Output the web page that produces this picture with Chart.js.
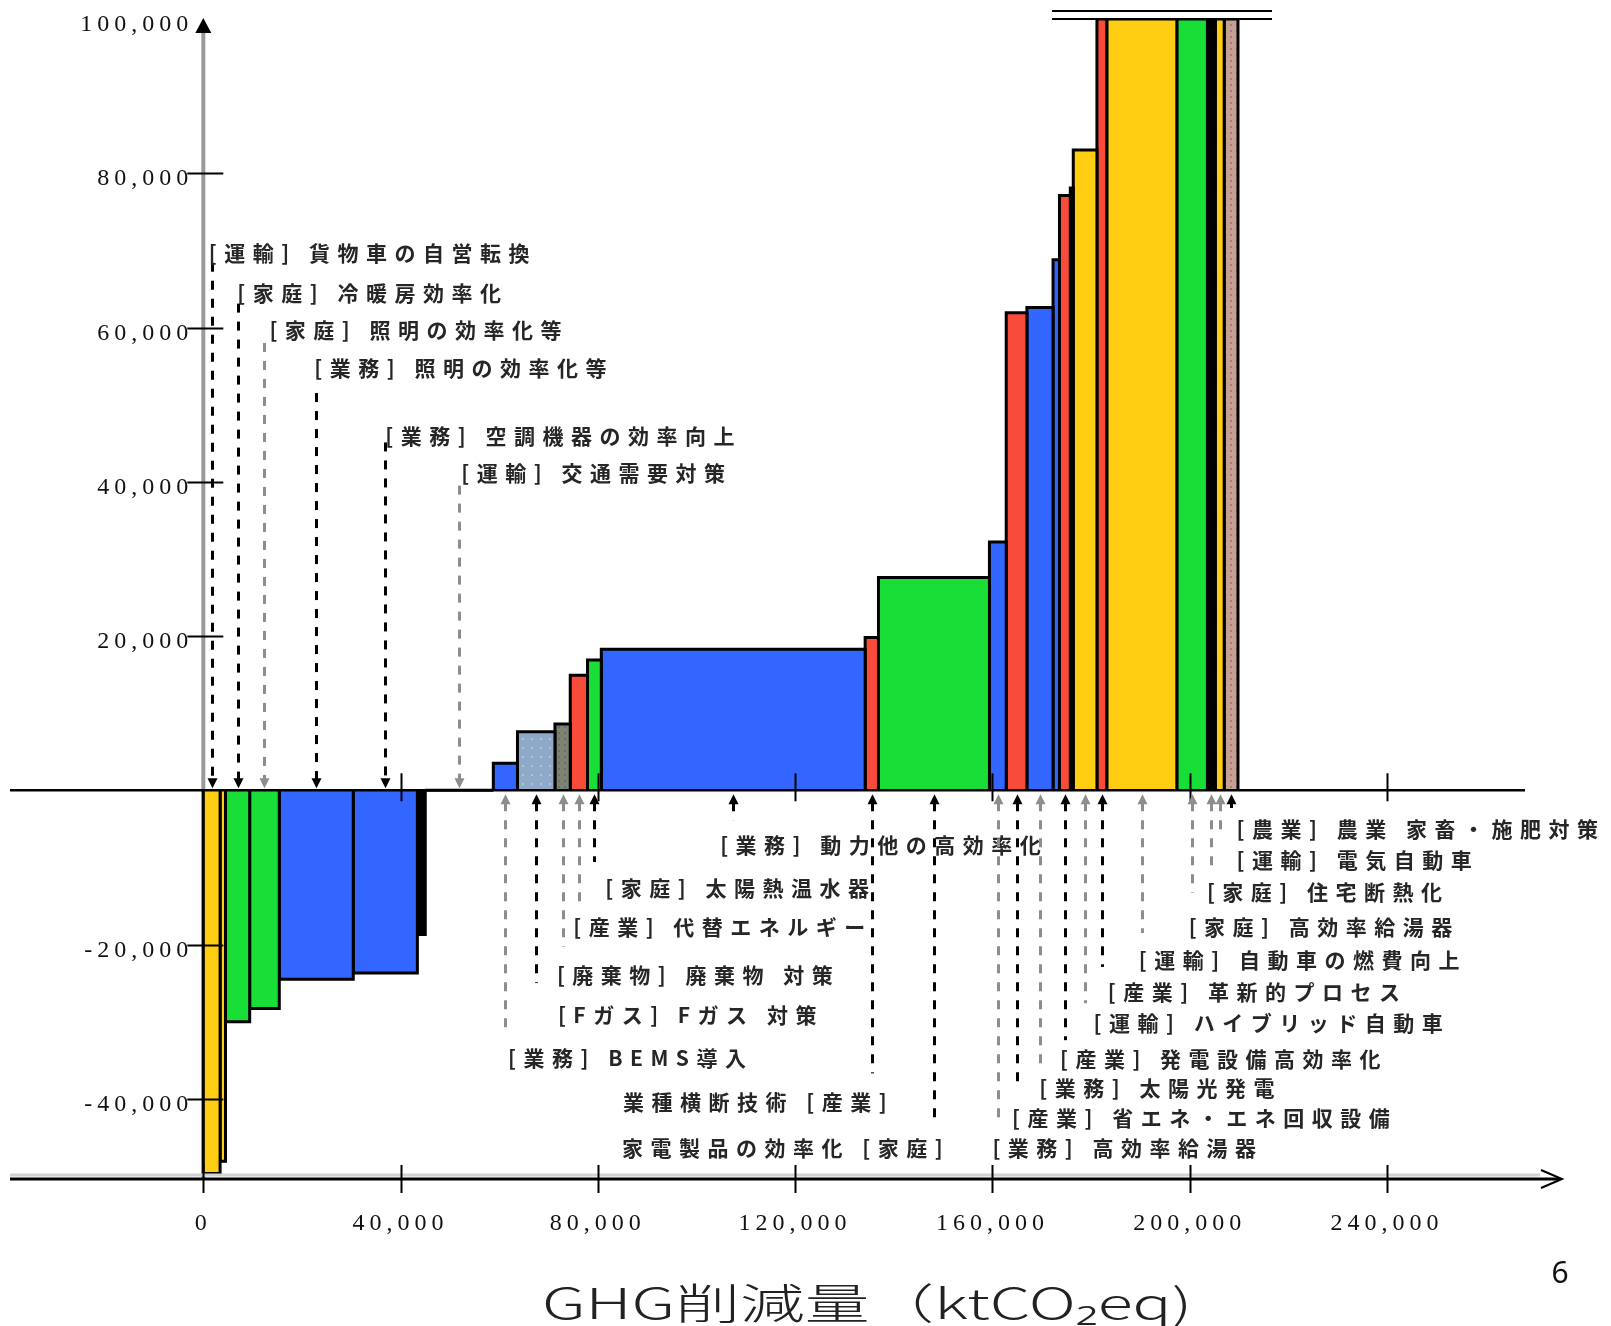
<!DOCTYPE html>
<html lang="ja">
<head>
    <meta charset="UTF-8">
    <title>GHG削減量 限界削減費用曲線</title>
    <!-- Chart.js -->
    <script src="https://cdn.jsdelivr.net/npm/chart.js"></script>
    <style>
        html, body { margin: 0; padding: 0; background: #fff; }
        #wrap { width: 1611px; height: 1326px; }
    </style>
</head>
<body>
    <div id="wrap"><canvas id="macc" width="1611" height="1326"></canvas></div>

    <script>
        // measures, left to right (empty name = no callout in the picture)
        const measureNames = [
            '[運輸] 貨物車の自営転換', '', '[家庭] 冷暖房効率化', '[家庭] 照明の効率化等',
            '[業務] 照明の効率化等', '[業務] 空調機器の効率向上', '', '[運輸] 交通需要対策',
            '[業務] BEMS導入', '[Fガス] Fガス 対策', '[廃棄物] 廃棄物 対策', '[産業] 代替エネルギー',
            '[家庭] 太陽熱温水器', '[業務] 動力他の高効率化', '業種横断技術 [産業]', '家電製品の効率化 [家庭]',
            '[業務] 高効率給湯器', '[産業] 省エネ・エネ回収設備', '[業務] 太陽光発電', '',
            '[産業] 発電設備高効率化', '', '[運輸] ハイブリッド自動車', '[産業] 革新的プロセス',
            '[運輸] 自動車の燃費向上', '[家庭] 高効率給湯器', '[家庭] 住宅断熱化', '[運輸] 電気自動車',
            '[農業] 農業 家畜・施肥対策'
        ];
        // GHG reduction of each measure (ktCO2eq) = bar width
        const reductions = [
            3400, 1100, 4900, 6000, 15000, 13000, 1600, 13800,
            4900, 7600, 3100, 3500, 2800, 53500, 2700, 22500,
            3400, 4200, 5300, 1300, 2200, 600, 4800, 2000,
            14200, 6200, 1600, 1800, 2800
        ];
        // cost of each measure = bar height (tall ones run off the top of the axis)
        const costs = [
            -49700, -48100, -30000, -28300, -24500, -23700, -18700, 0,
            3500, 7600, 8600, 14900, 16900, 18300, 19800, 27600,
            32200, 61900, 62600, 68800, 77100, 78100, 83000, 100000,
            100000, 100000, 100000, 100000, 100000
        ];
        // sector of each bar ('細' = sliver drawn solid black)
        const sectors = [
            '運輸', '運輸', '家庭', '家庭', '業務', '業務', '細', '運輸',
            '業務', 'Fガス', '廃棄物', '産業', '家庭', '業務', '産業', '家庭',
            '業務', '産業', '業務', '業務', '産業', '細', '運輸', '産業',
            '運輸', '家庭', '細', '運輸', '農業'
        ];
        const xTicks = [0, 40000, 80000, 120000, 160000, 200000, 240000];
        const yTicks = [-40000, -20000, 20000, 40000, 60000, 80000, 100000];

        // where each callout text sits (data units) and where its dashed leader stops
        const labelLayout = [
            { bar: 0, x: 1100, y: 69700, end: 68400, gray: false },
            { bar: 2, x: 6900, y: 64500, end: 63100, gray: false },
            { bar: 3, x: 13400, y: 59700, end: 58000, gray: true },
            { bar: 4, x: 22500, y: 54700, end: 51500, gray: false },
            { bar: 5, x: 36900, y: 45900, end: 45100, gray: false },
            { bar: 7, x: 52300, y: 41100, end: 39500, gray: true },
            { bar: 8, x: 61800, y: -34700, end: -31500, gray: true },
            { bar: 9, x: 71900, y: -29100, end: -25000, gray: false },
            { bar: 10, x: 71700, y: -24000, end: -20300, gray: true },
            { bar: 11, x: 75000, y: -17700, end: -15200, gray: true },
            { bar: 12, x: 81500, y: -12700, end: -9300, gray: false },
            { bar: 13, x: 104800, y: -7100, end: -3900, gray: false },
            { bar: 14, x: 85100, y: -40400, end: -36700, gray: false },
            { bar: 15, x: 84900, y: -46400, end: -43400, gray: false },
            { bar: 16, x: 160000, y: -46400, end: -43100, gray: true },
            { bar: 17, x: 164000, y: -42500, end: -38900, gray: false },
            { bar: 18, x: 169500, y: -38600, end: -35900, gray: true },
            { bar: 20, x: 173700, y: -34800, end: -32400, gray: false },
            { bar: 22, x: 180500, y: -30200, end: -27600, gray: true },
            { bar: 23, x: 183400, y: -26100, end: -22900, gray: false },
            { bar: 24, x: 189700, y: -22000, end: -18500, gray: true },
            { bar: 25, x: 199800, y: -17700, end: -13300, gray: true },
            { bar: 26, x: 203500, y: -13200, end: -9800, gray: true },
            { bar: 27, x: 209500, y: -9100, end: -5800, gray: true },
            { bar: 28, x: 209500, y: -5000, end: -2300, gray: false }
        ];

        function makePattern(base, dot, size, dotSize) {
            const c = document.createElement('canvas');
            c.width = size; c.height = size;
            const g = c.getContext('2d');
            g.fillStyle = base;
            g.fillRect(0, 0, size, size);
            g.fillStyle = dot;
            g.fillRect(0, 0, dotSize, dotSize);
            return g.createPattern(c, 'repeat');
        }

        const sectorFill = {
            '運輸': '#FFCD12',
            '家庭': '#1ADE38',
            '業務': '#3366FF',
            '産業': '#F94B3A',
            '廃棄物': makePattern('#7c8374', '#687060', 6, 2),
            'Fガス': makePattern('#8fa9c8', '#b1c3da', 9, 2),
            '農業': makePattern('#c4a194', '#a67c6c', 6, 2),
            '細': '#000'
        };

        // left edge of every bar (running total of widths)
        const starts = [];
        reductions.reduce((sum, w) => { starts.push(sum); return sum + w; }, 0);

        const datasets = reductions.map((w, i) => {
            const x0 = starts[i], x1 = starts[i] + w;
            return {
                label: measureNames[i] || sectors[i],
                data: [{ x: x0, y: 0 }, { x: x0, y: costs[i] }, { x: x1, y: costs[i] }, { x: x1, y: 0 }],
                fill: 'origin',
                backgroundColor: sectorFill[sectors[i]],
                borderColor: '#000',
                borderWidth: 3,
                borderJoinStyle: 'miter',
                pointRadius: 0,
                tension: 0
            };
        });

        const serif = '"Liberation Serif", "DejaVu Serif", serif';
        const gothic = '"Noto Sans CJK JP", "Noto Sans", sans-serif';

        const decor = {
            id: 'decor',
            beforeDraw(chart) {
                // wide spacing for the axis numbers drawn by the x scale
                chart.ctx.letterSpacing = '5px';
            },
            beforeDatasetsDraw(chart) {
                const { ctx, chartArea, scales: { x: xs, y: ys } } = chart;
                ctx.letterSpacing = '0px';
                const ax = xs.getPixelForValue(0);
                const top = ys.getPixelForValue(100000);
                // y axis (gray) with arrow head
                ctx.save();
                ctx.strokeStyle = '#9a9a9a';
                ctx.lineWidth = 4;
                ctx.beginPath();
                ctx.moveTo(ax, chartArea.bottom);
                ctx.lineTo(ax, top + 12);
                ctx.stroke();
                ctx.fillStyle = '#000';
                ctx.beginPath();
                ctx.moveTo(ax, top - 1);
                ctx.lineTo(ax - 8, top + 14);
                ctx.lineTo(ax + 8, top + 14);
                ctx.closePath();
                ctx.fill();
                ctx.restore();
            },
            afterDatasetsDraw(chart) {
                const { ctx, chartArea, scales: { x: xs, y: ys } } = chart;
                const ax = xs.getPixelForValue(0);
                const y0 = ys.getPixelForValue(0);
                const bottom = chartArea.bottom;
                ctx.save();

                // zero line with its ticks
                ctx.strokeStyle = '#000';
                ctx.lineWidth = 2.5;
                ctx.beginPath();
                ctx.moveTo(chartArea.left, y0);
                ctx.lineTo(xs.getPixelForValue(268000), y0);
                ctx.stroke();
                ctx.lineWidth = 2;
                xTicks.filter(v => v !== 0).forEach(v => {
                    const px = Math.round(xs.getPixelForValue(v)) + 0.5;
                    ctx.beginPath();
                    ctx.moveTo(px, y0 - 17);
                    ctx.lineTo(px, y0 + 11);
                    ctx.stroke();
                });

                // y ticks and labels
                ctx.font = '24px ' + serif;
                ctx.letterSpacing = '5px';
                ctx.fillStyle = '#111';
                ctx.textAlign = 'right';
                ctx.textBaseline = 'middle';
                yTicks.forEach(v => {
                    const py = Math.round(ys.getPixelForValue(v)) + 0.5;
                    if (v !== 100000) {
                        ctx.beginPath();
                        ctx.moveTo(ax - 16, py);
                        ctx.lineTo(ax + 20, py);
                        ctx.stroke();
                    }
                    ctx.fillText(v.toLocaleString('en-US'), ax - 10, py + 5);
                });

                // bottom axis with open arrow head
                ctx.strokeStyle = '#d2d2d2';
                ctx.lineWidth = 3;
                ctx.beginPath();
                ctx.moveTo(chartArea.left, bottom - 4);
                ctx.lineTo(chartArea.right - 22, bottom - 4);
                ctx.stroke();
                ctx.strokeStyle = '#000';
                ctx.lineWidth = 3;
                ctx.beginPath();
                ctx.moveTo(chartArea.left, bottom);
                ctx.lineTo(chartArea.right - 2, bottom);
                ctx.stroke();
                ctx.lineWidth = 2;
                ctx.beginPath();
                ctx.moveTo(chartArea.right - 21, bottom - 9);
                ctx.lineTo(chartArea.right, bottom);
                ctx.lineTo(chartArea.right - 21, bottom + 9);
                ctx.stroke();
                xTicks.forEach(v => {
                    const px = Math.round(xs.getPixelForValue(v)) + 0.5;
                    ctx.beginPath();
                    ctx.moveTo(px, bottom - 14);
                    ctx.lineTo(px, bottom + 14);
                    ctx.stroke();
                });

                // the bars are cut at 100,000: double rule over them
                const cutTop = ys.getPixelForValue(100000);
                ctx.lineWidth = 2;
                [cutTop - 8, cutTop].forEach(py => {
                    ctx.beginPath();
                    ctx.moveTo(xs.getPixelForValue(172100), py);
                    ctx.lineTo(xs.getPixelForValue(216700), py);
                    ctx.stroke();
                });

                // callouts: dashed leader, arrow head at the zero line, text
                labelLayout.forEach(l => {
                    const i = l.bar;
                    const cx = Math.round(xs.getPixelForValue(starts[i] + reductions[i] / 2)) + 0.5;
                    const above = l.y > 0;
                    const yEnd = ys.getPixelForValue(l.end);
                    const col = l.gray ? '#8d8d8d' : '#000';
                    ctx.strokeStyle = col;
                    ctx.fillStyle = col;
                    ctx.lineWidth = 3;
                    ctx.setLineDash([9, 9]);
                    ctx.beginPath();
                    if (above) {
                        ctx.moveTo(cx, yEnd);
                        ctx.lineTo(cx, y0 - 10);
                    } else {
                        ctx.moveTo(cx, y0 + 12);
                        ctx.lineTo(cx, yEnd);
                    }
                    ctx.stroke();
                    ctx.setLineDash([]);
                    ctx.beginPath();
                    if (above) {
                        ctx.moveTo(cx - 5, y0 - 12);
                        ctx.lineTo(cx + 5, y0 - 12);
                        ctx.lineTo(cx, y0 - 2);
                    } else {
                        ctx.moveTo(cx - 5, y0 + 14);
                        ctx.lineTo(cx + 5, y0 + 14);
                        ctx.lineTo(cx, y0 + 4);
                    }
                    ctx.closePath();
                    ctx.fill();

                    ctx.fillStyle = '#262626';
                    ctx.font = 'bold 21px ' + gothic;
                    ctx.letterSpacing = '7.5px';
                    ctx.textAlign = 'left';
                    ctx.textBaseline = 'middle';
                    ctx.fillText(measureNames[i], xs.getPixelForValue(l.x), ys.getPixelForValue(l.y));
                });
                ctx.restore();
            },
            afterDraw(chart) {
                const { ctx, chartArea, scales: { x: xs } } = chart;
                ctx.save();
                ctx.letterSpacing = '0px';
                // axis title, drawn wide like the original slide
                ctx.font = '300 42px ' + gothic;
                ctx.fillStyle = '#222';
                ctx.textAlign = 'left';
                ctx.textBaseline = 'middle';
                const title = 'GHG削減量（ktCO₂eq)';
                const m = ctx.measureText(title);
                const sx = 642 / (m.actualBoundingBoxLeft + m.actualBoundingBoxRight);
                ctx.translate(xs.getPixelForValue(69300), chartArea.bottom + 124);
                ctx.scale(sx, 1);
                ctx.fillText(title, m.actualBoundingBoxLeft, 0);
                ctx.restore();

                // slide number
                ctx.save();
                ctx.font = '30px "Noto Sans", sans-serif';
                ctx.fillStyle = '#111';
                ctx.textAlign = 'center';
                ctx.textBaseline = 'middle';
                ctx.fillText('6', 1560, 1274);
                ctx.restore();
            }
        };

        new Chart(document.getElementById('macc'), {
            type: 'line',
            data: { datasets: datasets },
            options: {
                responsive: false,
                animation: false,
                events: [],
                layout: { padding: { left: 10, right: 49, top: 19, bottom: 0 } },
                plugins: {
                    legend: { display: false },
                    tooltip: { enabled: false }
                },
                scales: {
                    x: {
                        type: 'linear',
                        min: -39200,
                        max: 275500,
                        afterBuildTicks: s => { s.ticks = xTicks.map(v => ({ value: v })); },
                        afterFit: s => { s.height = 147; },
                        grid: { display: false, drawTicks: false },
                        border: { display: false },
                        ticks: {
                            autoSkip: false,
                            maxRotation: 0,
                            padding: 30,
                            color: '#111',
                            font: { family: serif, size: 24 },
                            callback: v => v.toLocaleString('en-US')
                        }
                    },
                    y: {
                        type: 'linear',
                        min: -50400,
                        max: 100000,
                        display: false
                    }
                }
            },
            plugins: [decor]
        });
    </script>
</body>
</html>
